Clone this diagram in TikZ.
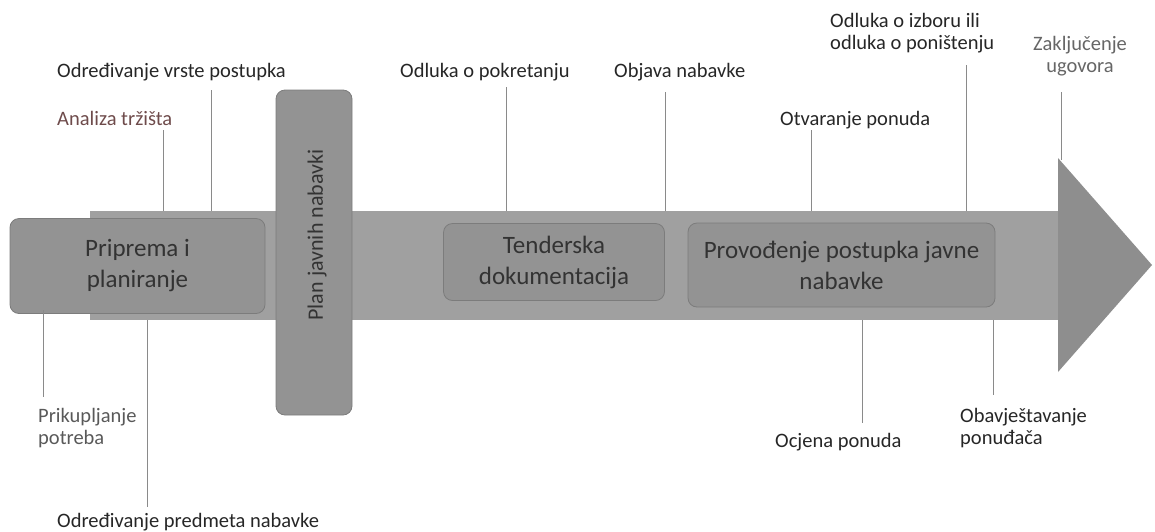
\documentclass[tikz,border=0pt]{standalone}
\usepackage{fontspec}
\setmainfont{Carlito}
\usetikzlibrary{positioning}
\definecolor{bandgray}{HTML}{A0A0A0}
\definecolor{headgray}{HTML}{8E8E8E}
\definecolor{boxgray}{HTML}{939393}
\definecolor{boxline}{HTML}{7C7C7C}
\definecolor{tickgray}{HTML}{8A8A8A}
\tikzset{
    stagebox/.style={draw=boxline,fill=boxgray,rounded corners=9pt,line width=0.8pt,
        align=center,text=black!80,font=\fontsize{25}{31}\selectfont,inner sep=0pt},
    tickline/.style={draw=tickgray,line width=0.9pt},
    ticklabel/.style={font=\fontsize{20.5}{22}\selectfont,text=black!85,align=left,inner sep=0pt},
}
\begin{document}
\begin{tikzpicture}[x=1pt,y=-1pt]
\useasboundingbox (0,0) rectangle (1155,531);

% Timeline band and arrow head
\fill[bandgray] (90,211) rectangle (1060,320);
\fill[headgray] (1058,158) -- (1152,265) -- (1058,372) -- cycle;

% Stages
\node[stagebox,minimum width=255pt,minimum height=95pt] (prip) at (137.5,266) {Priprema i\\planiranje};
\node[stagebox,minimum width=76pt,minimum height=325pt] (plan) at (314,252.5) {};
\node[text=black!80,font=\fontsize{22}{26}\selectfont,rotate=90,inner sep=0pt] (plantext) at (317,235) {Plan javnih nabavki};
\node[stagebox,minimum width=221pt,minimum height=77pt] (tend) at (554,262) {Tenderska\\dokumentacija};
\node[stagebox,minimum width=307pt,minimum height=84pt] (prov) at (841.5,265) {Provođenje postupka javne\\nabavke};

% Labels above the band
\node[ticklabel,anchor=west] (vrsta) at (57,72) {Određivanje vrste postupka};
\node[ticklabel,anchor=west,text={rgb,255:red,110;green,75;blue,75}] (trziste) at (57,118) {Analiza tržišta};
\node[ticklabel,anchor=west] (pokret) at (400,72) {Odluka o pokretanju};
\node[ticklabel,anchor=west] (objava) at (614,72) {Objava nabavke};
\node[ticklabel,anchor=west] (otvar) at (780,120) {Otvaranje ponuda};
\node[ticklabel,anchor=west] (izbor) at (830,33) {Odluka o izboru ili\\odluka o poništenju};
\node[ticklabel,align=center,text=black!60] (ugovor) at (1080,56) {Zaključenje\\ugovora};

% Labels below the band
\node[ticklabel,anchor=west,text=black!65] (prikup) at (38,428) {Prikupljanje\\potreba};
\node[ticklabel,anchor=west] (predmet) at (57,522) {Određivanje predmeta nabavke};
\node[ticklabel,anchor=west] (ocjena) at (775,442) {Ocjena ponuda};
\node[ticklabel,anchor=west] (obavj) at (960,428) {Obavještavanje\\ponuđača};

% Tick ends on the band
\coordinate (tTrz) at (163,211);
\coordinate (tVrs) at (211,211);
\coordinate (tPok) at (506,211);
\coordinate (tObj) at (665,211);
\coordinate (tOtv) at (811,211);
\coordinate (tIzb) at (966,211);
\coordinate (tUgo) at (1061,160);
\coordinate (tPri) at (43,310);
\coordinate (tPre) at (147,320);
\coordinate (tOcj) at (862,320);
\coordinate (tOba) at (993,320);

% Ticks
\draw[tickline] (tTrz) -- ++(0,-81);
\draw[tickline] (tVrs) -- ++(0,-121);
\draw[tickline] (tPok) -- ++(0,-124);
\draw[tickline] (tObj) -- ++(0,-119);
\draw[tickline] (tOtv) -- ++(0,-81);
\draw[tickline] (tIzb) -- ++(0,-146);
\draw[tickline] (tUgo) -- ++(0,-68);
\draw[tickline] (tPri) -- ++(0,87);
\draw[tickline] (tPre) -- ++(0,187);
\draw[tickline] (tOcj) -- ++(0,103);
\draw[tickline] (tOba) -- ++(0,75);

\end{tikzpicture}
\end{document}
